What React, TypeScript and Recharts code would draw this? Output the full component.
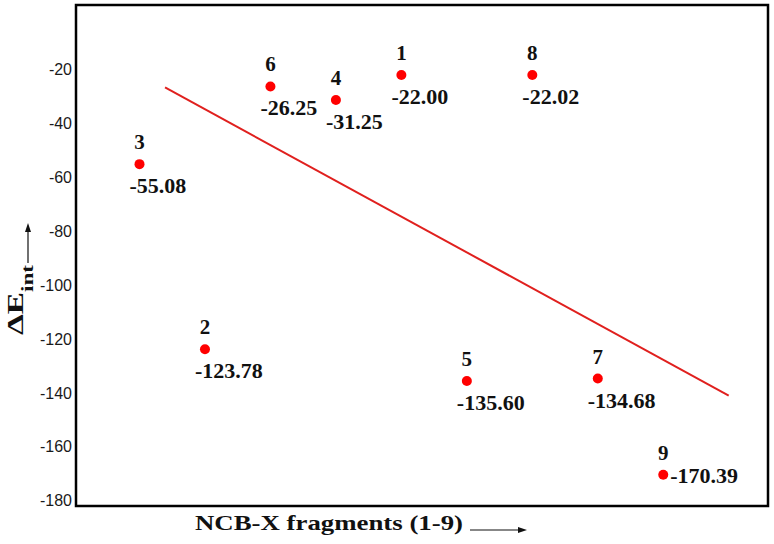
import { ComposedChart, Scatter, XAxis, YAxis, ReferenceLine, ReferenceArea } from 'recharts'

const fragments = ['1', '2', '3', '4', '5', '6', '7', '8', '9']
const energies = [-22.0, -123.78, -55.08, -31.25, -135.6, -26.25, -134.68, -22.02, -170.39]
// slot on the x axis where each fragment is drawn
const slots = [5, 2, 1, 4, 6, 3, 8, 7, 9]

const yTicks = [-20, -40, -60, -80, -100, -120, -140, -160, -180]

// hand-drawn trend line
const trendX = [1.39, 10.0]
const trendY = [-26.6, -141.0]

const points = fragments.map((name, i) => ({ name, x: slots[i], y: energies[i] }))

const SERIF = "'Liberation Serif', 'Times New Roman', serif"
const RED = '#ff0000'

function Dot(props: any) {
  const { cx, cy, payload } = props
  const right = payload.name === '9'
  return (
    <g>
      <circle cx={cx} cy={cy} r={5} fill={RED} />
      <text x={cx} y={cy - 15} textAnchor="middle" fontFamily={SERIF} fontWeight="bold" fontSize={21} fill="#111">
        {payload.name}
      </text>
      <text
        x={right ? cx + 7 : cx - 10}
        y={right ? cy + 8 : cy + 29}
        textAnchor="start"
        fontFamily={SERIF}
        fontWeight="bold"
        fontSize={22}
        fill="#111"
      >
        {payload.y.toFixed(2)}
      </text>
    </g>
  )
}

function XTitle() {
  return (
    <g>
      <text x={195} y={530} fontFamily={SERIF} fontWeight="bold" fontSize={22} fill="#111" textLength={268} lengthAdjust="spacingAndGlyphs">
        NCB-X fragments (1-9)
      </text>
      <line x1={470} y1={530} x2={520} y2={530} stroke="#111" strokeWidth={1.2} />
      <path d="M527,530 L518,527 L518,533 Z" fill="#111" />
    </g>
  )
}

function YTitle() {
  return (
    <g>
      <text transform="translate(23,335) rotate(-90)" fontFamily={SERIF} fontWeight="bold" fontSize={24} fill="#111" textLength={43} lengthAdjust="spacingAndGlyphs">
        ΔE
      </text>
      <text transform="translate(33,292) rotate(-90)" fontFamily={SERIF} fontWeight="bold" fontSize={16} fill="#111" textLength={27} lengthAdjust="spacingAndGlyphs">
        int
      </text>
      <line x1={28} y1={263} x2={28} y2={230} stroke="#111" strokeWidth={1.2} />
      <path d="M28,223 L25,232 L31,232 Z" fill="#111" />
    </g>
  )
}

export default function App() {
  return (
    <div style={{ position: 'absolute', left: 0, top: 0, background: '#fff' }}>
      <ComposedChart width={774} height={544} margin={{ top: 5, right: 6, bottom: 0, left: 0 }}>
        <XAxis
          type="number"
          dataKey="x"
          domain={[0.03, 10.6]}
          allowDataOverflow
          tick={false}
          axisLine={false}
          tickLine={false}
          height={38}
          label={{ content: () => <XTitle /> }}
        />
        <YAxis
          type="number"
          dataKey="y"
          domain={[-182, 4]}
          allowDataOverflow
          ticks={yTicks}
          interval={0}
          axisLine={false}
          tickLine={false}
          tickSize={4}
          tickMargin={0}
          width={76}
          tick={{ fontSize: 16, fill: '#1a1a1a', fontFamily: "'Liberation Sans', Arial, sans-serif" }}
          label={{ content: () => <YTitle /> }}
        />
        <ReferenceArea x1={0.03} x2={10.6} y1={-182} y2={4} fill="none" stroke="#000" strokeWidth={2.5} />
        <ReferenceLine
          segment={[
            { x: trendX[0], y: trendY[0] },
            { x: trendX[1], y: trendY[1] },
          ]}
          stroke="#e0201e"
          strokeWidth={2}
        />
        <Scatter data={points} shape={<Dot />} isAnimationActive={false} />
      </ComposedChart>
    </div>
  )
}
